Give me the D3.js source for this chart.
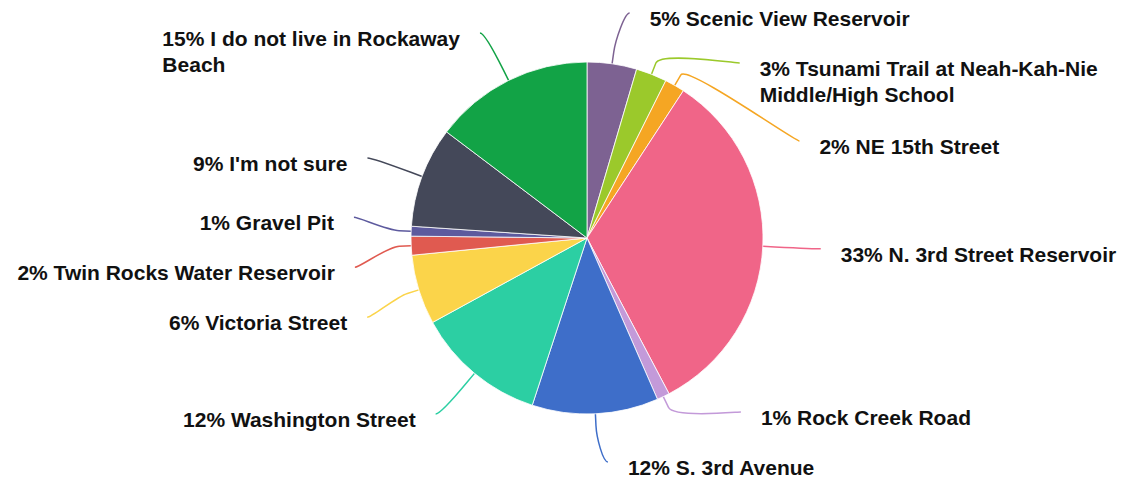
<!DOCTYPE html>
<html>
<head>
<meta charset="utf-8">
<script src="https://cdn.jsdelivr.net/npm/d3@7"></script>
<style>
  html, body { margin: 0; padding: 0; background: #fff; }
  svg { display: block; }
  .lbl { font-family: "Liberation Sans", Arial, Helvetica, sans-serif; font-weight: bold; font-size: 21px; fill: #111; }
</style>
</head>
<body>
<svg id="chart" width="1125" height="483"></svg>
<script>
// Survey answers, clockwise from 12 o'clock
const categories = [
  "Scenic View Reservoir",
  "Tsunami Trail at Neah-Kah-Nie Middle/High School",
  "NE 15th Street",
  "N. 3rd Street Reservoir",
  "Rock Creek Road",
  "S. 3rd Avenue",
  "Washington Street",
  "Victoria Street",
  "Twin Rocks Water Reservoir",
  "Gravel Pit",
  "I'm not sure",
  "I do not live in Rockaway Beach"
];
// Share of responses (%)
const shares = [4.55, 2.84, 1.83, 33.06, 1.16, 11.59, 12.0, 6.4, 1.73, 0.9, 9.23, 14.7];
const colors = [
  "#7d6292", "#9bc92b", "#f5a623", "#f06588", "#c39ad9", "#3e6ec9",
  "#2ccfa3", "#fbd44a", "#e05a50", "#5d5a9e", "#444859", "#12a346"
];

const W = 1125, H = 483;
const cx = 587, cy = 238, r = 176;
const labelR = 229;          // radius of label anchor ring
const breakR = r + 12;       // where the connector leaves the radial direction
const maxLabelWidth = 340;
const lineGap = 26;
const boundTop = -12, boundBottom = 487;

const svg = d3.select("#chart");
const total = d3.sum(shares);

const pie = d3.pie().sort(null).value(d => d)(shares);
const arc = d3.arc().innerRadius(0).outerRadius(r);

const g = svg.append("g").attr("transform", `translate(${cx},${cy})`);
g.selectAll("path.slice")
  .data(pie)
  .join("path")
  .attr("class", "slice")
  .attr("d", arc)
  .attr("fill", (d, i) => colors[i])
  .attr("stroke", "#ffffff")
  .attr("stroke-width", 0.8);

// Build the label texts (wrapped) and measure them
const labelLayer = svg.append("g");
const connLayer = svg.insert("g", "g");

const items = pie.map((d, i) => {
  const theta = (d.startAngle + d.endAngle) / 2;
  const pct = Math.round(d.value / total * 100);
  const text = `${pct}% ${categories[i]}`;
  const t = labelLayer.append("text").attr("class", "lbl");
  // wrap words
  const words = text.split(" ");
  const lines = [];
  let cur = [];
  const probe = t.append("tspan");
  words.forEach(w => {
    const trial = cur.concat([w]).join(" ");
    probe.text(trial);
    if (probe.node().getComputedTextLength() > maxLabelWidth && cur.length) {
      lines.push(cur.join(" "));
      cur = [w];
    } else {
      cur.push(w);
    }
  });
  lines.push(cur.join(" "));
  probe.remove();
  const widths = lines.map(l => {
    const s = t.append("tspan").text(l);
    const wd = s.node().getComputedTextLength();
    s.remove();
    return wd;
  });
  const right = Math.sin(theta) >= 0;
  const naturalY = cy - labelR * Math.cos(theta);
  const size = 50 + 28 * (lines.length - 1);
  return {
    i, theta, right, lines, t, size,
    width: d3.max(widths),
    naturalY,
    target: naturalY - 25 + size / 2
  };
});

// Spread labels vertically on each side so they don't collide
function distribute(boxes) {
  boxes.sort((a, b) => a.target - b.target);
  let groups = boxes.map(b => ({ size: b.size, targets: [b.target], members: [b] }));
  let merged = true;
  while (merged) {
    groups.forEach(gr => {
      const mid = (d3.min(gr.targets) + d3.max(gr.targets)) / 2;
      gr.pos = Math.max(boundTop, Math.min(boundBottom - gr.size, mid - gr.size / 2));
    });
    merged = false;
    for (let k = groups.length - 1; k > 0; k--) {
      const a = groups[k - 1], b = groups[k];
      if (a.pos + a.size > b.pos) {
        a.size += b.size;
        a.targets = a.targets.concat(b.targets);
        a.members = a.members.concat(b.members);
        groups.splice(k, 1);
        merged = true;
      }
    }
  }
  groups.forEach(gr => {
    let p = gr.pos;
    gr.members.forEach(m => { m.pos = p; p += m.size; });
  });
}
distribute(items.filter(d => d.right));
distribute(items.filter(d => !d.right));

items.forEach(d => {
  const dir = d.right ? 1 : -1;
  d.y = d.pos + 25;
  // labels pinned to the top/bottom keep their natural horizontal position
  const atEdge = d.pos <= boundTop + 2 || d.pos + d.size >= boundBottom - 2;
  const yForX = atEdge ? d.naturalY : d.y;
  const dy = yForX - cy;
  d.x = cx + dir * (Math.sqrt(Math.max(0, labelR * labelR - dy * dy)) + (atEdge ? 10 : 5));

  // connector
  const sx = cx + r * Math.sin(d.theta), sy = cy - r * Math.cos(d.theta);
  const bx = cx + breakR * Math.sin(d.theta), by = cy - breakR * Math.cos(d.theta);
  const path = d3.path();
  path.moveTo(d.x, d.y);
  path.bezierCurveTo(d.x - dir * 5, d.y, 2 * bx - sx, 2 * by - sy, bx, by);
  path.lineTo(sx, sy);
  connLayer.append("path")
    .attr("d", path.toString())
    .attr("fill", "none")
    .attr("stroke", colors[d.i])
    .attr("stroke-width", 1.5);

  // text block
  const left = d.right ? d.x + 20 : d.x - 20 - d.width;
  d.lines.forEach((l, k) => {
    d.t.append("tspan")
      .attr("x", left)
      .attr("y", d.y + 13 + k * lineGap)
      .text(l);
  });
});
</script>
</body>
</html>
